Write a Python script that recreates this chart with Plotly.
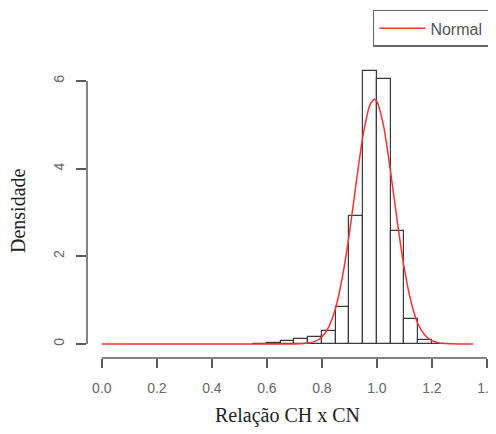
import plotly.graph_objects as go

# Histogram (density), bin width 0.05
bin_left = [0.55, 0.60, 0.65, 0.70, 0.75, 0.80, 0.85, 0.90, 0.95, 1.00, 1.05, 1.10, 1.15, 1.20]
density = [0.005, 0.03, 0.07, 0.11, 0.17, 0.30, 0.85, 2.91, 6.23, 6.04, 2.58, 0.57, 0.08, 0.01]
bin_width = 0.05

# Fitted normal curve
curve_x = [0.0, 0.2, 0.4, 0.6, 0.65, 0.70, 0.75, 0.775, 0.80, 0.825, 0.85, 0.875, 0.90, 0.925,
           0.95, 0.975, 0.99, 1.00, 1.025, 1.05, 1.075, 1.10, 1.125, 1.15, 1.175, 1.20,
           1.225, 1.25, 1.30, 1.35]
curve_y = [0.0, 0.0, 0.0, 0.0, 0.0, 0.002, 0.02, 0.06, 0.16, 0.39, 0.82, 1.54, 2.52, 3.69,
           4.77, 5.46, 5.58, 5.53, 4.95, 3.92, 2.75, 1.71, 0.94, 0.45, 0.20, 0.075,
           0.025, 0.008, 0.0, 0.0]

x_ticks = [0.0, 0.2, 0.4, 0.6, 0.8, 1.0, 1.2, 1.4]
x_tick_labels = ["0.0", "0.2", "0.4", "0.6", "0.8", "1.0", "1.2", "1.4"]
y_ticks = [0, 2, 4, 6]
y_tick_labels = ["0", "2", "4", "6"]

axis_color = "#5a5a5a"

fig = go.Figure()
fig.add_trace(go.Bar(
    x=[b + bin_width / 2 for b in bin_left], y=density, width=bin_width,
    marker=dict(color="white", line=dict(color="#3a3a3a", width=1.2)),
    showlegend=False, hoverinfo="skip",
))
fig.add_trace(go.Scatter(
    x=curve_x, y=curve_y, mode="lines", name="Normal ",
    line=dict(color="#ff3030", width=1.5, shape="spline", smoothing=0.6),
))

# R-style detached axis lines spanning the tick range
fig.add_shape(type="line", xref="x", yref="paper", x0=x_ticks[0], x1=x_ticks[-1], y0=0, y1=0,
              line=dict(color=axis_color, width=1.5))
fig.add_shape(type="line", xref="paper", yref="y", x0=0, x1=0, y0=y_ticks[0], y1=y_ticks[-1],
              line=dict(color=axis_color, width=1.5))

# the page body has an 8px margin, so the figure is shifted by 8px
fig.update_layout(
    width=488, height=426,
    margin=dict(l=79, r=8, t=56, b=76, autoexpand=False),
    plot_bgcolor="white", paper_bgcolor="white",
    bargap=0,
    xaxis=dict(range=[-0.054, 1.404], tickvals=x_ticks, ticktext=x_tick_labels,
               showgrid=False, zeroline=False, showline=False, automargin=False,
               ticks="outside", ticklen=9, tickwidth=1.5, tickcolor=axis_color,
               ticklabelstandoff=8, ticklabeloverflow="allow",
               tickfont=dict(family="Liberation Sans, Arial", size=14, color="#666666")),
    yaxis=dict(range=[-0.32, 6.385], tickvals=y_ticks, ticktext=y_tick_labels,
               showgrid=False, zeroline=False, showline=False, automargin=False,
               ticks="outside", ticklen=10, tickwidth=1.5, tickcolor=axis_color,
               tickangle=-90, ticklabelstandoff=6,
               tickfont=dict(family="Liberation Sans, Arial", size=14, color="#666666")),
    legend=dict(x=0.713, y=1.184, xanchor="left", yanchor="top",
                bordercolor="#666666", borderwidth=1.5, bgcolor="white",
                font=dict(family="Liberation Sans, Arial", size=16, color="#555555"),
                itemwidth=46),
    annotations=[
        dict(text="Relação CH x CN", xref="paper", yref="paper", x=0.5, y=-0.197,
             xanchor="center", yanchor="middle", showarrow=False,
             font=dict(family="Liberation Serif, Times New Roman", size=20, color="#222222")),
        dict(text="Densidade", xref="paper", yref="paper", x=-0.172, y=0.5,
             xanchor="center", yanchor="middle", showarrow=False, textangle=-90,
             font=dict(family="Liberation Serif, Times New Roman", size=20, color="#222222")),
    ],
)

fig.write_html("out.html", config={"displayModeBar": False})
